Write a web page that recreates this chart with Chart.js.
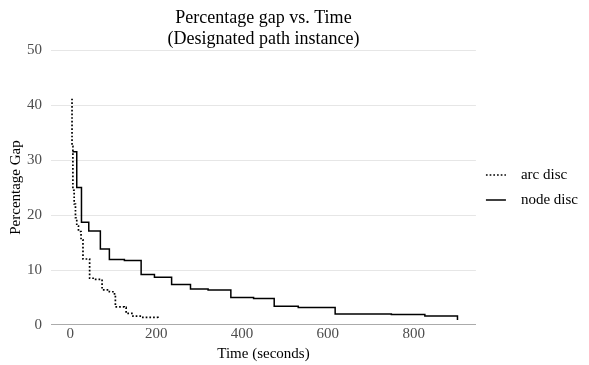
<!DOCTYPE html>
<html>
<head>
<meta charset="utf-8">
<script src="https://cdn.jsdelivr.net/npm/chart.js@4"></script>
<style>
  body { margin: 0; background: #fff; }
</style>
</head>
<body>
<canvas id="myChart" width="589" height="365"></canvas>
<script>
// Step data (time in seconds, gap in %)
const arcTime = [2, 4, 6, 9, 12, 15, 19, 25, 29.5, 45, 59, 74, 91, 103, 105, 126, 130, 146, 169, 204];
const arcGap = [41.0, 32.5, 24.5, 22.0, 19.5, 18.0, 17.0, 15.5, 12.0, 8.5, 8.3, 6.4, 6.05, 5.45, 3.3, 3.2, 2.1, 1.6, 1.4, 1.05];

const nodeTime = [5, 15, 26, 43, 70, 91, 126, 165, 196, 236, 280, 321, 374, 427, 475, 531, 617, 748, 826, 902];
const nodeGap = [31.5, 25.0, 18.7, 17.1, 13.8, 11.9, 11.75, 9.2, 8.7, 7.35, 6.55, 6.35, 5.0, 4.8, 3.4, 3.2, 2.0, 1.9, 1.65, 0.9];

const xTicks = [0, 200, 400, 600, 800];
const yTicks = [0, 10, 20, 30, 40, 50];

const serif = 'Liberation Serif';

const toPoints = (xs, ys) => xs.map((x, i) => ({ x: x, y: ys[i] }));

const ctx = document.getElementById('myChart').getContext('2d');

const myChart = new Chart(ctx, {
    type: 'line',
    data: {
        datasets: [{
            label: 'arc disc',
            data: toPoints(arcTime, arcGap),
            borderColor: '#000',
            borderWidth: 1.7,
            borderDash: [1.7, 2],
            stepped: true,
            pointRadius: 0,
            fill: false
        }, {
            label: 'node disc',
            data: toPoints(nodeTime, nodeGap),
            borderColor: '#000',
            borderWidth: 1.5,
            stepped: true,
            pointRadius: 0,
            fill: false
        }]
    },
    options: {
        responsive: false,
        animation: false,
        layout: { padding: { left: 0, right: 1, top: 0, bottom: 0 } },
        plugins: {
            title: {
                display: true,
                fullSize: false,
                text: ['Percentage gap vs. Time', '(Designated path instance)'],
                color: '#000',
                font: { family: serif, size: 18, weight: 'normal', lineHeight: 1.1667 },
                padding: { top: 7.5, bottom: 0.5 }
            },
            legend: {
                position: 'right',
                fullSize: false,
                labels: {
                    usePointStyle: true,
                    pointStyle: 'line',
                    pointStyleWidth: 20,
                    padding: 10,
                    color: '#000',
                    font: { family: serif, size: 15 },
                    // line samples carry each dataset's own dash pattern
                    generateLabels: (chart) => chart.data.datasets.map((ds, i) => ({
                        text: '  ' + ds.label,
                        strokeStyle: ds.borderColor,
                        fillStyle: ds.borderColor,
                        lineWidth: ds.borderWidth,
                        lineDash: ds.borderDash || [],
                        pointStyle: 'line',
                        fontColor: '#000',
                        hidden: false,
                        datasetIndex: i
                    }))
                }
            },
            tooltip: { enabled: false }
        },
        scales: {
            x: {
                type: 'linear',
                min: -45,
                max: 945,
                afterBuildTicks: (scale) => { scale.ticks = xTicks.map(v => ({ value: v })); },
                afterFit: (scale) => { scale.height = 40; },
                grid: { display: false, drawTicks: false },
                border: { display: true, color: '#ababab', width: 1 },
                ticks: {
                    padding: 0,
                    color: '#4d4d4d',
                    font: { family: serif, size: 15 },
                    maxRotation: 0
                },
                title: {
                    display: true,
                    text: 'Time (seconds)',
                    color: '#000',
                    font: { family: serif, size: 15 },
                    padding: { top: 0, bottom: 2 }
                }
            },
            y: {
                min: 0,
                max: 50,
                afterBuildTicks: (scale) => { scale.ticks = yTicks.map(v => ({ value: v })); },
                afterFit: (scale) => { scale.width = 51; },
                grid: {
                    drawTicks: false,
                    color: (c) => (c.tick && c.tick.value === 0) ? 'rgba(0,0,0,0)' : '#e6e6e6'
                },
                border: { display: false },
                ticks: {
                    padding: 9,
                    color: '#4d4d4d',
                    font: { family: serif, size: 15 }
                },
                title: {
                    display: true,
                    text: 'Percentage Gap',
                    color: '#000',
                    font: { family: serif, size: 15 },
                    padding: { top: 7, bottom: 0 }
                }
            }
        }
    }
});
</script>
</body>
</html>
